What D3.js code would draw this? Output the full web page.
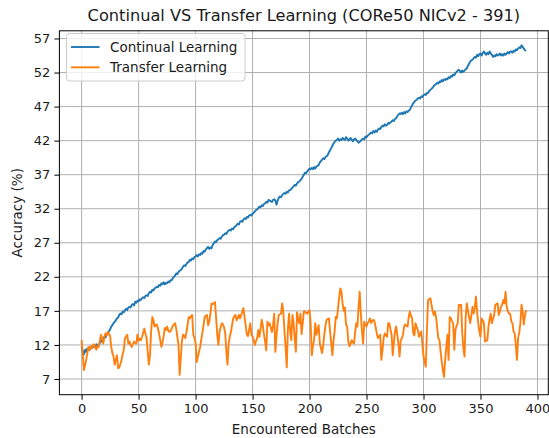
<!DOCTYPE html>
<html>
<head>
<meta charset="utf-8">
<script src="https://cdn.jsdelivr.net/npm/d3@7/dist/d3.min.js"></script>
<style>
body { margin: 0; background: #fff; }
text { font-family: "DejaVu Sans", sans-serif; fill: #1a1a1a; }
</style>
</head>
<body>
<div id="root" style="width:549px;height:438px"></div>
<script>
// accuracy (%) after each encountered batch
var continual = [
11.7,11.0,10.6,11.3,11.0,11.5,11.5,11.3,11.8,11.6, 11.7,11.9,11.6,12.1,11.8,12.0,12.3,12.5,12.7,13.0,
13.2,13.1,13.5,13.7,14.0,14.3,14.7,14.9,15.2,15.4, 15.6,15.9,16.0,16.4,16.6,16.5,16.9,16.8,17.1,17.3,
17.1,17.5,17.6,17.5,17.9,18.0,17.8,18.35,18.2,18.5, 18.4,18.7,18.6,18.85,19.0,18.9,19.2,19.3,19.2,19.6,
19.8,19.7,20.1,20.0,20.3,20.4,20.55,20.5,20.8,20.7, 21.05,20.9,21.2,20.9,21.1,21.05,21.3,21.2,21.5,21.5,
21.8,22.0,22.2,22.5,22.4,22.7,22.9,23.0,23.2,23.5, 23.7,23.6,23.9,24.1,24.2,24.5,24.4,24.7,24.6,24.9,
25.0,25.2,25.0,25.3,25.2,25.5,25.4,25.8,25.7,26.0, 26.2,26.4,26.1,26.3,26.2,26.7,26.9,27.2,27.1,27.4,
27.5,27.7,27.6,27.9,28.1,28.2,28.4,28.3,28.6,28.8, 28.9,28.8,29.1,29.0,29.3,29.4,29.6,29.8,29.7,30.1,
30.2,30.1,30.4,30.6,30.5,30.8,30.7,31.0,31.1,31.0, 31.3,31.4,31.6,31.8,31.9,32.1,32.3,32.2,32.5,32.4,
32.7,32.8,33.0,32.9,33.3,33.2,33.1,33.0,33.3,33.4, 33.2,32.6,33.2,33.6,33.8,33.7,34.0,34.2,34.3,34.2,
34.5,34.4,34.7,34.75,34.9,35.1,35.3,35.5,35.4,35.7, 35.9,36.0,36.2,36.4,36.7,37.0,37.3,37.2,37.5,37.7,
37.9,37.8,38.0,37.8,38.1,37.9,38.2,38.3,38.4,38.8, 39.0,39.2,39.4,39.3,39.6,39.7,39.9,40.3,40.6,40.9,
41.2,41.6,41.8,42.0,42.1,42.3,42.0,42.2,42.1,42.4, 42.2,42.1,42.5,42.3,42.0,42.2,42.4,42.1,41.9,42.2,
42.3,42.1,41.9,41.7,41.8,42.0,42.2,42.3,42.2,42.6, 42.5,42.7,42.9,43.0,43.2,43.1,43.4,43.2,43.5,43.3,
43.6,43.8,43.7,44.0,44.2,44.1,44.4,44.2,44.3,44.6, 44.5,44.7,44.8,45.0,44.9,45.2,45.3,45.6,45.8,46.0,
45.9,46.1,45.9,46.2,46.0,46.3,46.2,46.4,46.5,46.9, 47.2,47.5,47.7,47.9,48.0,48.2,48.3,48.2,48.5,48.4,
48.7,48.8,48.7,49.0,49.0,49.3,49.45,49.6,49.8,50.0, 50.2,50.3,50.5,50.4,50.7,50.6,50.9,50.7,51.0,50.9,
51.1,51.0,51.3,51.2,51.5,51.4,51.7,51.6,51.9,52.1, 52.3,52.4,52.2,52.0,52.3,52.1,52.3,52.5,52.6,53.0,
53.3,53.6,53.8,53.9,54.1,54.3,54.2,54.6,54.4,54.7, 54.8,54.5,54.9,55.1,54.8,54.6,54.9,54.7,55.1,54.8,
54.6,54.3,54.5,54.4,54.7,54.5,54.6,54.8,54.5,54.7, 54.5,54.8,54.6,54.8,55.0,54.8,55.1,55.1,54.9,55.2,
55.1,55.4,55.3,55.5,55.7,55.6,56.0,55.8,55.5,55.3, 55.2
];
var transfer = [
12.7,10.5,8.3,9.0,9.8,10.8,11.7,11.2,11.8,11.5, 12.0,12.1,11.6,11.3,11.9,11.7,12.6,13.5,12.9,12.2,
13.2,13.7,13.4,13.9,13.6,13.3,11.7,10.8,10.3,9.1, 9.8,10.5,8.6,8.7,9.2,9.8,10.6,11.3,13.0,13.2,
13.5,12.2,12.5,12.0,11.7,12.1,12.5,12.3,12.2,13.5, 12.6,12.9,12.7,13.2,13.8,14.4,13.6,13.0,11.0,9.1,
10.5,14.0,16.1,15.7,14.7,14.9,15.0,14.4,13.6,12.7, 11.7,12.4,13.3,14.5,14.2,14.7,14.1,13.9,14.0,14.4,
14.8,15.0,15.2,14.4,13.2,12.0,7.6,10.0,12.5,13.5, 13.3,13.0,13.9,15.0,16.1,15.9,16.2,16.4,13.5,13.0,
12.3,9.5,10.3,11.0,11.7,12.8,13.8,14.9,16.1,16.3, 16.4,14.9,15.4,16.6,18.1,18.0,18.1,18.3,16.0,13.5,
12.0,13.9,14.6,15.2,15.0,14.6,13.7,11.0,9.1,12.2, 13.2,13.9,14.9,15.9,16.2,16.4,15.6,16.0,16.4,15.9,
16.4,16.9,17.4,16.0,14.8,13.5,13.3,14.2,15.2,13.5, 13.2,12.7,12.0,12.6,13.0,14.2,13.2,14.3,15.7,14.8,
13.6,12.5,11.2,15.4,14.9,15.2,14.5,13.9,14.9,16.6, 11.0,13.4,15.2,16.4,16.5,16.6,18.1,16.8,14.0,11.7,
8.7,14.3,16.6,14.0,12.7,16.4,15.2,13.0,11.0,16.8, 15.8,15.2,16.6,13.6,15.2,16.9,16.9,16.7,16.6,16.9,
17.1,15.0,10.5,11.9,12.7,15.2,13.5,14.2,14.9,12.2, 11.5,10.8,12.0,13.6,14.9,15.7,15.8,15.9,14.0,12.3,
10.5,12.6,14.0,16.1,15.9,17.4,19.0,20.3,19.8,18.1, 17.0,17.5,15.0,14.7,12.5,11.8,12.2,12.7,12.4,12.2,
13.8,15.2,14.7,17.5,19.8,16.6,14.0,12.2,15.4,15.0, 14.7,15.2,15.5,15.9,15.2,15.5,15.7,15.4,14.6,13.7,
13.0,13.2,13.5,9.8,11.3,13.0,13.7,13.4,13.2,15.2, 15.2,14.3,13.5,10.5,12.4,14.0,14.7,13.5,12.2,10.3,
12.7,13.0,13.5,14.7,15.0,14.8,14.7,16.1,16.9,16.3, 15.9,13.7,13.4,15.2,14.6,14.2,13.2,13.6,14.0,12.2,
10.3,9.5,8.8,14.2,18.6,18.7,18.85,17.9,17.0,16.4, 16.9,16.1,14.5,13.0,12.7,11.0,9.5,8.3,7.3,9.8,
11.7,13.5,9.8,16.1,15.9,15.5,15.2,11.3,14.2,14.8, 15.2,17.9,17.8,17.9,13.7,11.5,10.3,16.1,18.1,17.0,
16.1,15.2,16.3,17.6,16.6,17.5,19.1,16.9,15.2,14.0, 13.2,15.9,15.6,15.2,12.5,12.6,12.7,14.7,15.8,16.6,
15.2,15.8,16.4,17.9,18.0,18.1,16.4,16.9,17.6,17.9, 18.6,18.1,19.8,17.6,16.9,16.6,16.6,15.5,15.2,14.0,
13.7,12.0,9.8,13.0,13.8,15.2,17.9,16.9,15.0,16.3, 17.1
];
var seriesNames = ["Continual Learning", "Transfer Learning"];
var seriesColors = ["#1f77b4", "#ff7f0e"];
var xTicks = [0, 50, 100, 150, 200, 250, 300, 350, 400];
var yTicks = [7, 12, 17, 22, 27, 32, 37, 42, 47, 52, 57];

function draw(selector) {
    var W = 549, H = 438;
    var pl = 59.4, pr = 548.3, pt = 30.8, pb = 394.7;
    var fs = "13.5px";

    var svg = d3.select(selector).append("svg")
        .attr("width", W)
        .attr("height", H);

    var x = d3.scaleLinear().domain([-19.5, 409.5]).range([pl, pr]);
    var y = d3.scaleLinear().domain([4.69, 58.13]).range([pb, pt]);

    // grid
    var grid = svg.append("g").attr("class", "grid");
    grid.selectAll("line.vx")
        .data(xTicks)
        .enter().append("line")
        .attr("x1", function(d) { return x(d); })
        .attr("x2", function(d) { return x(d); })
        .attr("y1", pt).attr("y2", pb)
        .attr("stroke", "#b0b0b0").attr("stroke-width", 1);
    grid.selectAll("line.hy")
        .data(yTicks)
        .enter().append("line")
        .attr("y1", function(d) { return y(d); })
        .attr("y2", function(d) { return y(d); })
        .attr("x1", pl).attr("x2", pr)
        .attr("stroke", "#b0b0b0").attr("stroke-width", 1);

    // lines
    var line = d3.line()
        .x(function(d, i) { return x(i); })
        .y(function(d) { return y(d); });

    svg.append("g").selectAll("path")
        .data([continual, transfer])
        .enter().append("path")
        .attr("d", line)
        .attr("fill", "none")
        .attr("stroke", function(d, i) { return seriesColors[i]; })
        .attr("stroke-width", 1.9)
        .attr("stroke-linejoin", "round");

    // axes
    var xAxis = svg.append("g")
        .attr("transform", "translate(0," + pb + ")")
        .call(d3.axisBottom(x).tickValues(xTicks).tickSize(5).tickPadding(4));
    var yAxis = svg.append("g")
        .attr("transform", "translate(" + pl + ",0)")
        .call(d3.axisLeft(y).tickValues(yTicks).tickSize(5).tickPadding(4));

    [xAxis, yAxis].forEach(function(a) {
        a.select(".domain").remove();
        a.selectAll("line").attr("stroke", "#000").attr("stroke-width", 1);
        a.selectAll("text")
            .attr("font-size", "13px")
            .attr("font-family", "DejaVu Sans, sans-serif")
            .attr("fill", "#1a1a1a");
    });

    svg.append("rect")
        .attr("x", pl).attr("y", pt)
        .attr("width", pr - pl).attr("height", pb - pt)
        .attr("fill", "none").attr("stroke", "#000").attr("stroke-width", 1);

    // titles
    svg.append("text")
        .attr("x", (pl + pr) / 2).attr("y", 21)
        .attr("text-anchor", "middle")
        .attr("font-size", "16.2px")
        .text("Continual VS Transfer Learning (CORe50 NICv2 - 391)");

    svg.append("text")
        .attr("x", (pl + pr) / 2).attr("y", 434)
        .attr("text-anchor", "middle")
        .attr("font-size", fs)
        .text("Encountered Batches");

    svg.append("text")
        .attr("transform", "translate(22," + ((pt + pb) / 2) + ") rotate(-90)")
        .attr("text-anchor", "middle")
        .attr("font-size", fs)
        .text("Accuracy (%)");

    // legend
    var legend = svg.append("g").attr("transform", "translate(66.5,33.5)");
    legend.append("rect")
        .attr("width", 178.5).attr("height", 47.5)
        .attr("rx", 3)
        .attr("fill", "#fff").attr("fill-opacity", 0.8)
        .attr("stroke", "#cccccc");
    var items = legend.selectAll("g.item")
        .data(seriesNames)
        .enter().append("g")
        .attr("transform", function(d, i) { return "translate(0," + (13.5 + i * 20.3) + ")"; });
    items.append("line")
        .attr("x1", 4.5).attr("x2", 33)
        .attr("stroke", function(d, i) { return seriesColors[i]; })
        .attr("stroke-width", 1.9);
    items.append("text")
        .attr("x", 43.5).attr("y", 4.8)
        .attr("font-size", fs)
        .text(function(d) { return d; });
}

draw("#root");
</script>
</body>
</html>
